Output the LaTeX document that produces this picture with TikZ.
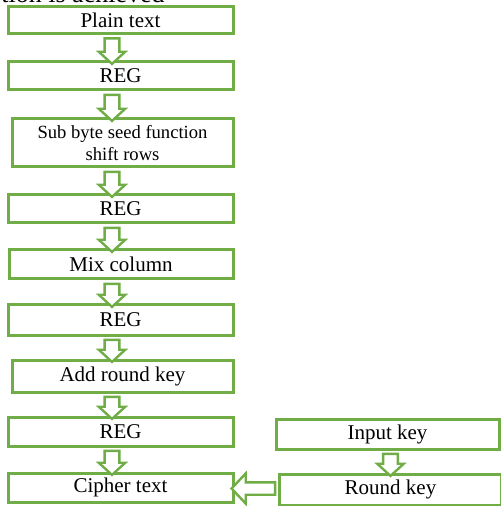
\documentclass[tikz,border=0pt]{standalone}
\usepackage{fontspec}
\setmainfont{Liberation Serif}
\usetikzlibrary{shapes.arrows, calc}

\definecolor{boxgreen}{RGB}{112,173,71}

\tikzset{
  block/.style={draw=boxgreen, line width=1.5pt, fill=white, inner sep=0pt,
    minimum width=112.5pt, minimum height=14pt,
    font=\fontsize{10.5}{12}\selectfont},
  hollow/.style={single arrow, draw=boxgreen, line width=1.2pt, fill=white,
    inner xsep=0pt, inner ysep=3.1pt, outer sep=0pt, minimum width=0pt,
    single arrow head extend=2.9pt, single arrow tip angle=95},
}

\begin{document}
\begin{tikzpicture}[x=0.5pt, y=-0.5pt]
  \useasboundingbox (0,0) rectangle (500,506);

  % heading line cut off at the top of the page
  \node[anchor=base west, inner sep=0pt, font=\fontsize{13}{15}\selectfont]
    (heading) at (1,3) {tion is achieved};

  % main column
  \node[block, minimum height=13.5pt] (plain) at (120.5,20) {Plain text};
  \node[block] (reg1) at (120.5,76) {REG};
  \node[block, minimum width=110.5pt, minimum height=24pt, align=center,
    font=\fontsize{9.3}{10.75}\selectfont] (sbox) at (122.5,143)
    {Sub byte seed function\\shift rows};
  \node[block] (reg2) at (120.5,209) {REG};
  \node[block, minimum width=112pt, minimum height=14.5pt] (mix) at (121,264.5) {Mix column};
  \node[block, minimum height=15pt] (reg3) at (120.5,320) {REG};
  \node[block, minimum width=110.5pt, minimum height=16pt] (addkey) at (122.5,376) {Add round key};
  \node[block, minimum height=14.5pt] (reg4) at (120.5,431.5) {REG};
  \node[block, minimum height=14.5pt] (cipher) at (120.5,487.5) {Cipher text};

  % key schedule
  \node[block, minimum width=111.5pt, minimum height=15pt] (inkey) at (387.5,434) {Input key};
  \node[block, minimum width=111pt, minimum height=15.5pt] (rkey) at (390.5,489.5) {Round key};

  % hollow arrows down the main column
  \foreach \a/\b in {plain/reg1, reg1/sbox, sbox/reg2, reg2/mix,
                     mix/reg3, reg3/addkey, addkey/reg4, reg4/cipher} {
    \path let \p1=(\a.south), \p2=(\b.north), \p3=(112,0) in
      node[hollow, rotate=-90, minimum height={(\y1)-(\y2)}]
        at (\x3,{0.5*(\y1)+0.5*(\y2)}) {};
  }

  % input key -> round key
  \path let \p1=(inkey.south), \p2=(rkey.north) in
    node[hollow, rotate=-90, minimum height={(\y1)-(\y2)}]
      at (\x2,{0.5*(\y1)+0.5*(\y2)}) {};

  % round key -> cipher text
  \path let \p1=(rkey.west), \p2=(cipher.east) in
    node[hollow, rotate=180, inner ysep=2.5pt, single arrow head extend=4.5pt,
      single arrow tip angle=94, minimum height={(\x1)-(\x2)}]
      at ({0.5*(\x1)+0.5*(\x2)},{0.5*(\y1)+0.5*(\y2)}) {};
\end{tikzpicture}
\end{document}
